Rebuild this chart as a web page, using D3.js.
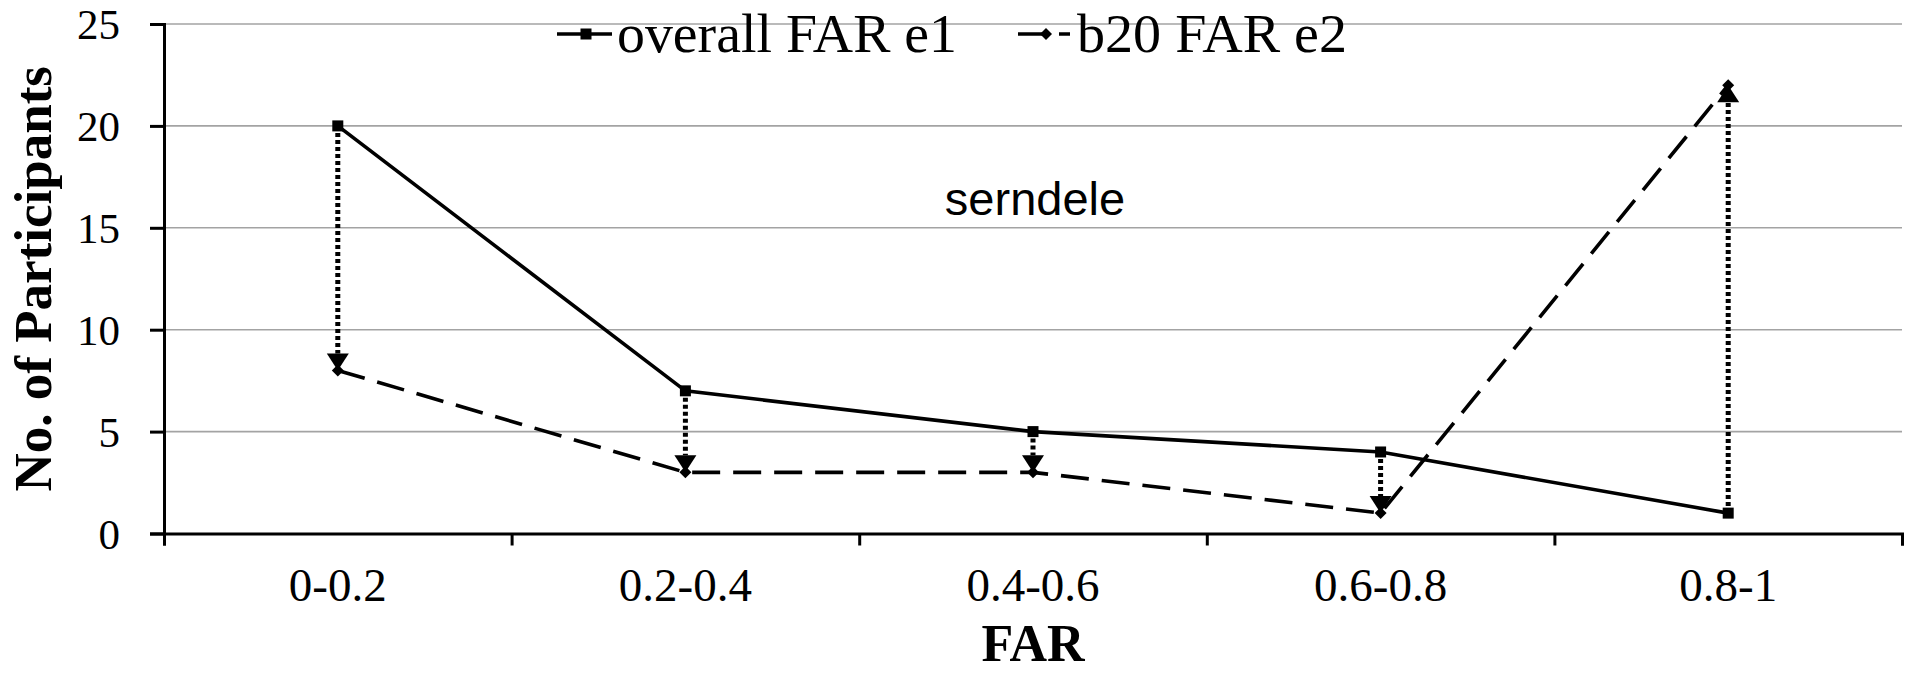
<!DOCTYPE html>
<html>
<head>
<meta charset="utf-8">
<script src="https://cdn.jsdelivr.net/npm/d3@7"></script>
<style>
  html, body { margin: 0; padding: 0; background: #fff; }
  svg { display: block; }
  .serif { font-family: "Liberation Serif", "Times New Roman", serif; }
</style>
</head>
<body>
<svg id="chart" width="1923" height="673"></svg>
<script>
// FAR bins and participant counts per bin
const categories = ["0-0.2", "0.2-0.4", "0.4-0.6", "0.6-0.8", "0.8-1"];
const overallFAR = [20, 7, 5, 4, 1];
const b20FAR = [8, 3, 3, 1, 22];
const yTicks = [0, 5, 10, 15, 20, 25];
const seriesNames = ["overall FAR e1", "b20 FAR e2"];

const svg = d3.select("#chart");
const plotLeft = 164, plotRight = 1902, plotTop = 24, plotBottom = 533.5;

const x = d3.scaleBand().domain(categories).range([plotLeft, plotRight]).padding(0);
const xc = c => x(c) + x.bandwidth() / 2;
const xEdge = d3.scaleLinear().domain([0, categories.length]).range([plotLeft, plotRight]);
const y = d3.scaleLinear().domain([0, 25]).range([plotBottom, plotTop]);

// horizontal grid
svg.append("g")
  .selectAll("line")
  .data(yTicks.filter(t => t > 0))
  .join("line")
  .attr("x1", plotLeft).attr("x2", plotRight)
  .attr("y1", d => y(d)).attr("y2", d => y(d))
  .attr("stroke", "#a3a3a3").attr("stroke-width", 1.6);

// y axis
const yAxis = svg.append("g")
  .attr("transform", `translate(${plotLeft},0)`)
  .call(d3.axisLeft(y).tickValues(yTicks).tickSize(14).tickPadding(30));
yAxis.select(".domain").attr("stroke", "#000").attr("stroke-width", 3);
yAxis.selectAll(".tick line").attr("stroke", "#000").attr("stroke-width", 3);
yAxis.selectAll(".tick text")
  .attr("class", "serif").attr("font-size", 43).attr("dy", "0.34em").attr("fill", "#000");

// x axis: ticks at bin edges, labels at bin centres
const xTickAxis = svg.append("g")
  .attr("transform", `translate(0,${plotBottom})`)
  .call(d3.axisBottom(xEdge).ticks(categories.length).tickSize(12).tickFormat(""));
xTickAxis.select(".domain").attr("stroke", "#000").attr("stroke-width", 3);
xTickAxis.selectAll(".tick line").attr("stroke", "#000").attr("stroke-width", 3);

const xLabelAxis = svg.append("g")
  .attr("transform", `translate(0,${plotBottom})`)
  .call(d3.axisBottom(x).tickSize(0).tickPadding(34));
xLabelAxis.select(".domain").remove();
xLabelAxis.selectAll(".tick text")
  .attr("class", "serif").attr("font-size", 47).attr("fill", "#000");

// axis titles
svg.append("text")
  .attr("class", "serif")
  .attr("x", (plotLeft + plotRight) / 2).attr("y", 661)
  .attr("text-anchor", "middle")
  .attr("font-size", 52).attr("font-weight", "bold")
  .text("FAR");

svg.append("text")
  .attr("class", "serif")
  .attr("transform", `translate(51,${(plotTop + plotBottom) / 2}) rotate(-90)`)
  .attr("text-anchor", "middle")
  .attr("font-size", 53).attr("font-weight", "bold")
  .text("No. of Participants");

// change arrows between the two series
const arrowW = 22, arrowH = 17;
const arrows = svg.append("g");
categories.forEach((c, i) => {
  const y0 = y(overallFAR[i]), y1 = y(b20FAR[i]);
  const dir = y1 > y0 ? 1 : -1;
  arrows.append("line")
    .attr("x1", xc(c)).attr("x2", xc(c))
    .attr("y1", y0).attr("y2", y1 - dir * arrowH)
    .attr("stroke", "#000").attr("stroke-width", 5)
    .attr("stroke-dasharray", "4,3");
  arrows.append("path")
    .attr("d", `M${xc(c)},${y1} L${xc(c) - arrowW / 2},${y1 - dir * arrowH} L${xc(c) + arrowW / 2},${y1 - dir * arrowH} Z`)
    .attr("fill", "#000");
});

// series lines
const line = (vals) => d3.line()
  .x((d, i) => xc(categories[i]))
  .y(d => y(d))(vals);

svg.append("path")
  .attr("d", line(overallFAR))
  .attr("fill", "none").attr("stroke", "#000").attr("stroke-width", 3.6);

svg.append("path")
  .attr("d", line(b20FAR))
  .attr("fill", "none").attr("stroke", "#000").attr("stroke-width", 3.6)
  .attr("stroke-dasharray", "28,13");

// markers
const sq = 11, dm = 6;
svg.append("g").selectAll("rect")
  .data(overallFAR)
  .join("rect")
  .attr("x", (d, i) => xc(categories[i]) - sq / 2)
  .attr("y", d => y(d) - sq / 2)
  .attr("width", sq).attr("height", sq)
  .attr("fill", "#000");

svg.append("g").selectAll("path")
  .data(b20FAR)
  .join("path")
  .attr("d", (d, i) => {
    const cx = xc(categories[i]), cy = y(d);
    return `M${cx},${cy - dm} L${cx + dm},${cy} L${cx},${cy + dm} L${cx - dm},${cy} Z`;
  })
  .attr("fill", "#000");

// legend
const lg = svg.append("g");
lg.append("line").attr("x1", 557).attr("x2", 612).attr("y1", 34).attr("y2", 34)
  .attr("stroke", "#000").attr("stroke-width", 3.6);
lg.append("rect").attr("x", 586 - sq / 2).attr("y", 34 - sq / 2)
  .attr("width", sq).attr("height", sq).attr("fill", "#000");
lg.append("text").attr("class", "serif")
  .attr("x", 617).attr("y", 52).attr("font-size", 55)
  .attr("textLength", 340).attr("lengthAdjust", "spacingAndGlyphs")
  .text(seriesNames[0]);

lg.append("line").attr("x1", 1018).attr("x2", 1070).attr("y1", 34).attr("y2", 34)
  .attr("stroke", "#000").attr("stroke-width", 3.6)
  .attr("stroke-dasharray", "27,14");
lg.append("path")
  .attr("d", `M1046,${34 - dm} L${1046 + dm},34 L1046,${34 + dm} L${1046 - dm},34 Z`)
  .attr("fill", "#000");
lg.append("text").attr("class", "serif")
  .attr("x", 1077).attr("y", 52).attr("font-size", 55)
  .attr("textLength", 270).attr("lengthAdjust", "spacingAndGlyphs")
  .text(seriesNames[1]);

// annotation
svg.append("text")
  .attr("x", 1035).attr("y", 215)
  .attr("text-anchor", "middle")
  .attr("font-family", "'Liberation Sans', Arial, sans-serif")
  .attr("font-size", 47)
  .text("serndele");
</script>
</body>
</html>
